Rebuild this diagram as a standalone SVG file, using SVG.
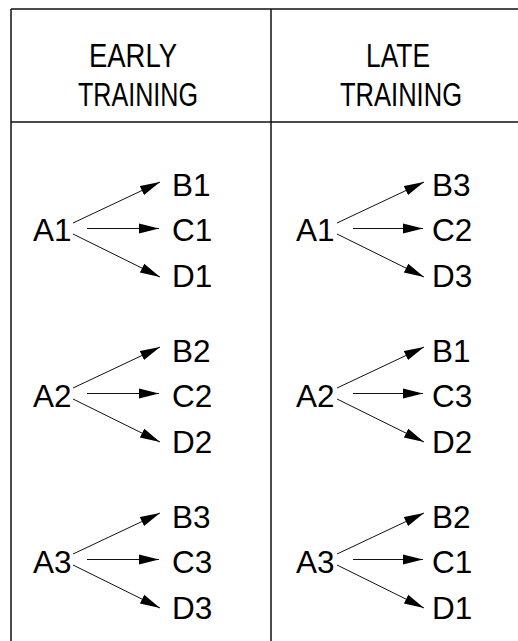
<svg xmlns="http://www.w3.org/2000/svg" width="518" height="641" viewBox="0 0 518 641">
<style>
.t{font-family:"Liberation Sans",Arial,sans-serif;fill:#000;}
.h{font-size:34px;}
.n{font-size:31.5px;}
.frame{stroke:#111;stroke-width:1.5;fill:none;}
.c{stroke:#111;stroke-width:1;fill:none;marker-end:url(#ah);}
</style>
<defs>
<marker id="ah" markerUnits="userSpaceOnUse" markerWidth="22" markerHeight="12" refX="20" refY="6" orient="auto" viewBox="0 0 22 12">
<path d="M0,1 L20,6 L0,11 Z" fill="#000"/>
</marker>
</defs>
<g id="table">
<line class="frame" x1="11" y1="9" x2="518" y2="9"/>
<line class="frame" x1="11" y1="122" x2="518" y2="122"/>
<line class="frame" x1="11" y1="9" x2="11" y2="641"/>
<line class="frame" x1="271" y1="9" x2="271" y2="641"/>
</g>
<g id="header-early">
<text class="t h" x="133" y="66.5" text-anchor="middle" textLength="88" lengthAdjust="spacingAndGlyphs">EARLY</text>
<text class="t h" x="138" y="105.5" text-anchor="middle" textLength="120" lengthAdjust="spacingAndGlyphs">TRAINING</text>
</g>
<g id="header-late">
<text class="t h" x="398" y="66.5" text-anchor="middle" textLength="64" lengthAdjust="spacingAndGlyphs">LATE</text>
<text class="t h" x="401" y="105.5" text-anchor="middle" textLength="122" lengthAdjust="spacingAndGlyphs">TRAINING</text>
</g>
<g id="connectors">
<g>
<line class="c" x1="73" y1="223" x2="160" y2="182"/>
<line class="c" x1="87" y1="228.5" x2="159" y2="228.5"/>
<line class="c" x1="73" y1="234" x2="160" y2="277"/>
<line class="c" x1="73" y1="388" x2="160" y2="347"/>
<line class="c" x1="87" y1="393.5" x2="159" y2="393.5"/>
<line class="c" x1="73" y1="399" x2="160" y2="442"/>
<line class="c" x1="73" y1="554" x2="160" y2="513"/>
<line class="c" x1="87" y1="559.5" x2="159" y2="559.5"/>
<line class="c" x1="73" y1="565" x2="160" y2="608"/>
</g>
<g>
<line class="c" x1="337" y1="223" x2="424" y2="182"/>
<line class="c" x1="353" y1="228.5" x2="423" y2="228.5"/>
<line class="c" x1="337" y1="234" x2="424" y2="277"/>
<line class="c" x1="337" y1="388" x2="424" y2="347"/>
<line class="c" x1="353" y1="393.5" x2="423" y2="393.5"/>
<line class="c" x1="337" y1="399" x2="424" y2="442"/>
<line class="c" x1="337" y1="554" x2="424" y2="513"/>
<line class="c" x1="353" y1="559.5" x2="423" y2="559.5"/>
<line class="c" x1="337" y1="565" x2="424" y2="608"/>
</g>
</g>
<g id="early-A1"><text class="t n" x="33" y="241">A1</text></g>
<g id="early-B1"><text class="t n" x="172" y="196">B1</text></g>
<g id="early-C1"><text class="t n" x="172" y="241">C1</text></g>
<g id="early-D1"><text class="t n" x="172" y="287">D1</text></g>
<g id="early-A2"><text class="t n" x="33" y="407">A2</text></g>
<g id="early-B2"><text class="t n" x="172" y="362">B2</text></g>
<g id="early-C2"><text class="t n" x="172" y="407">C2</text></g>
<g id="early-D2"><text class="t n" x="172" y="453">D2</text></g>
<g id="early-A3"><text class="t n" x="33" y="573">A3</text></g>
<g id="early-B3"><text class="t n" x="172" y="528">B3</text></g>
<g id="early-C3"><text class="t n" x="172" y="573">C3</text></g>
<g id="early-D3"><text class="t n" x="172" y="619">D3</text></g>
<g id="late-A1"><text class="t n" x="296" y="241">A1</text></g>
<g id="late-B3"><text class="t n" x="432" y="196">B3</text></g>
<g id="late-C2"><text class="t n" x="432" y="241">C2</text></g>
<g id="late-D3"><text class="t n" x="432" y="287">D3</text></g>
<g id="late-A2"><text class="t n" x="296" y="407">A2</text></g>
<g id="late-B1"><text class="t n" x="432" y="362">B1</text></g>
<g id="late-C3"><text class="t n" x="432" y="407">C3</text></g>
<g id="late-D2"><text class="t n" x="432" y="453">D2</text></g>
<g id="late-A3"><text class="t n" x="296" y="573">A3</text></g>
<g id="late-B2"><text class="t n" x="432" y="528">B2</text></g>
<g id="late-C1"><text class="t n" x="432" y="573">C1</text></g>
<g id="late-D1"><text class="t n" x="432" y="619">D1</text></g>
</svg>
